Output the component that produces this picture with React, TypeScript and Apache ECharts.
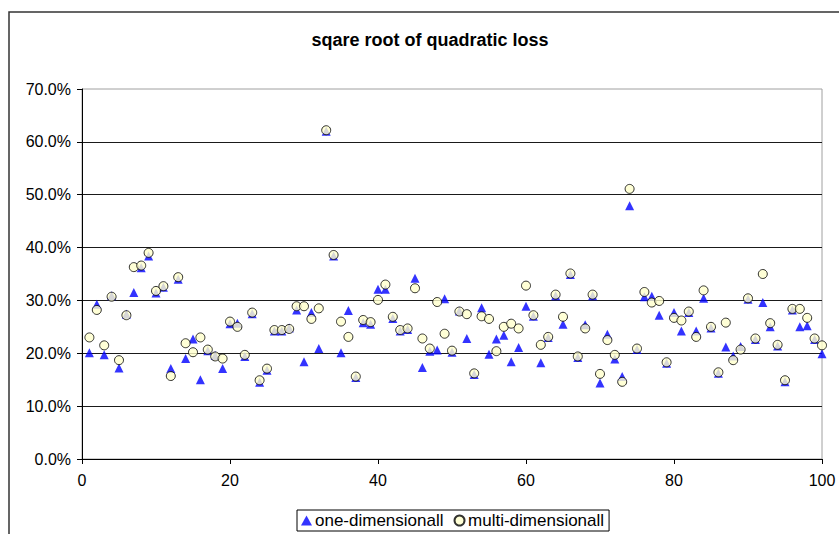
import React, { useEffect, useRef } from "react";
import * as echarts from "echarts";

const xValues: number[] = Array.from({ length: 100 }, (_, i) => i + 1);

const oneDim: number[] = [
  20.1, 29.3, 19.7, 30.9, 17.2, 27.4, 31.5, 36.2, 38.4, 31.4,
  32.5, 17.1, 34.0, 19.0, 22.7, 15.0, 20.5, 19.6, 17.1, 25.6,
  25.7, 19.4, 27.5, 14.5, 16.8, 24.2, 24.2, 24.8, 28.2, 18.4,
  27.7, 20.9, 62.0, 38.4, 20.1, 28.1, 15.4, 25.8, 25.5, 32.1,
  32.1, 26.6, 24.2, 24.5, 34.2, 17.3, 20.4, 20.6, 30.3, 20.2,
  28.0, 22.8, 16.0, 28.6, 19.8, 22.7, 23.4, 18.4, 21.1, 28.9,
  27.0, 18.2, 23.0, 30.9, 25.5, 34.9, 19.2, 25.4, 30.9, 14.4,
  23.6, 18.9, 15.6, 47.9, 20.7, 30.7, 30.8, 27.2, 18.1, 27.7,
  24.2, 27.7, 24.2, 30.4, 24.8, 16.2, 21.2, 19.5, 21.3, 30.2,
  22.6, 29.6, 25.0, 21.4, 14.6, 28.2, 25.0, 25.2, 22.6, 19.9,
];

const multiDim: number[] = [
  23.0, 28.2, 21.5, 30.7, 18.7, 27.2, 36.3, 36.6, 39.0, 31.8,
  32.7, 15.7, 34.4, 21.9, 20.2, 23.0, 20.7, 19.4, 19.0, 26.0,
  25.0, 19.7, 27.7, 14.9, 17.1, 24.4, 24.4, 24.6, 28.9, 28.9,
  26.5, 28.5, 62.2, 38.6, 26.0, 23.1, 15.6, 26.3, 25.9, 30.1,
  33.0, 26.9, 24.4, 24.7, 32.3, 22.8, 20.9, 29.7, 23.7, 20.5,
  27.9, 27.4, 16.2, 27.0, 26.5, 20.4, 25.0, 25.6, 24.7, 32.8,
  27.2, 21.6, 23.1, 31.1, 26.9, 35.1, 19.4, 24.7, 31.1, 16.1,
  22.5, 19.7, 14.6, 51.1, 20.9, 31.6, 29.6, 29.9, 18.3, 26.7,
  26.2, 27.9, 23.1, 31.9, 25.0, 16.4, 25.8, 18.7, 20.7, 30.4,
  22.8, 35.0, 25.7, 21.6, 14.9, 28.4, 28.4, 26.7, 22.8, 21.5,
];

const titleText = "sqare root of quadratic loss";
const seriesNames = ["one-dimensionall", "multi-dimensionall"];
const FONT = "'Liberation Sans', Arial, sans-serif";

export default function App() {
  const ref = useRef<HTMLDivElement>(null);
  useEffect(() => {
    if (!ref.current) return;
    const chart = echarts.init(ref.current, null, { renderer: "svg" });
    chart.setOption({
      animation: false,
      backgroundColor: "#ffffff",
      textStyle: { fontFamily: FONT },
      graphic: [
        {
          type: "rect",
          shape: { x: 9, y: 12, width: 900, height: 600 },
          style: { fill: "none", stroke: "#333333", lineWidth: 1.5 },
          silent: true,
        },
        {
          type: "text",
          x: 430,
          y: 40,
          style: {
            text: titleText,
            font: `bold 18px ${FONT}`,
            fill: "#000",
            textAlign: "center",
            textVerticalAlign: "middle",
          },
        },
      ],
      legend: {
        left: 297,
        top: 510,
        orient: "horizontal",
        borderColor: "#000",
        borderWidth: 1,
        padding: [2, 5, 2, 4],
        itemGap: 10,
        itemWidth: 11,
        itemHeight: 10,
        textStyle: { fontSize: 17, color: "#000", fontFamily: FONT, padding: [0, 0, 0, -2] },
        data: [
          { name: seriesNames[0], icon: "triangle" },
          { name: seriesNames[1], icon: "circle" },
        ],
      },
      grid: {
        left: 82,
        right: 17,
        top: 89,
        bottom: 75,
        show: true,
        borderColor: "#a0a0a0",
        borderWidth: 1,
        backgroundColor: "#ffffff",
      },
      xAxis: {
        type: "value",
        min: 0,
        max: 100,
        interval: 20,
        axisLine: { show: true, lineStyle: { color: "#000", width: 1 } },
        axisTick: { show: true, inside: false, length: 5, lineStyle: { color: "#000" } },
        axisLabel: { color: "#000", fontSize: 16, fontFamily: FONT, margin: 13 },
        splitLine: { show: false },
      },
      yAxis: {
        type: "value",
        min: 0,
        max: 70,
        interval: 10,
        axisLine: { show: true, lineStyle: { color: "#000", width: 1 } },
        axisTick: { show: true, inside: false, length: 5, lineStyle: { color: "#000" } },
        axisLabel: {
          color: "#000",
          fontSize: 16,
          fontFamily: FONT,
          margin: 11,
          formatter: (v: number) => v.toFixed(1) + "%",
        },
        splitLine: { show: true, showMaxLine: false, lineStyle: { color: "#1a1a1a", width: 1 } },
      },
      series: [
        {
          name: seriesNames[0],
          type: "scatter",
          symbol: "triangle",
          symbolSize: 9,
          itemStyle: { color: "#0000ff" },
          data: xValues.map((x, i) => [x, oneDim[i]]),
          z: 2,
        },
        {
          name: seriesNames[1],
          type: "scatter",
          symbol: "circle",
          symbolSize: 9,
          itemStyle: { color: "#ffffcc", borderColor: "#000", borderWidth: 1 },
          data: xValues.map((x, i) => [x, multiDim[i]]),
          z: 3,
        },
      ],
    });
    return () => chart.dispose();
  }, []);
  return (
    <div
      ref={ref}
      style={{ position: "fixed", left: 0, top: 0, width: 839, height: 534 }}
    />
  );
}
